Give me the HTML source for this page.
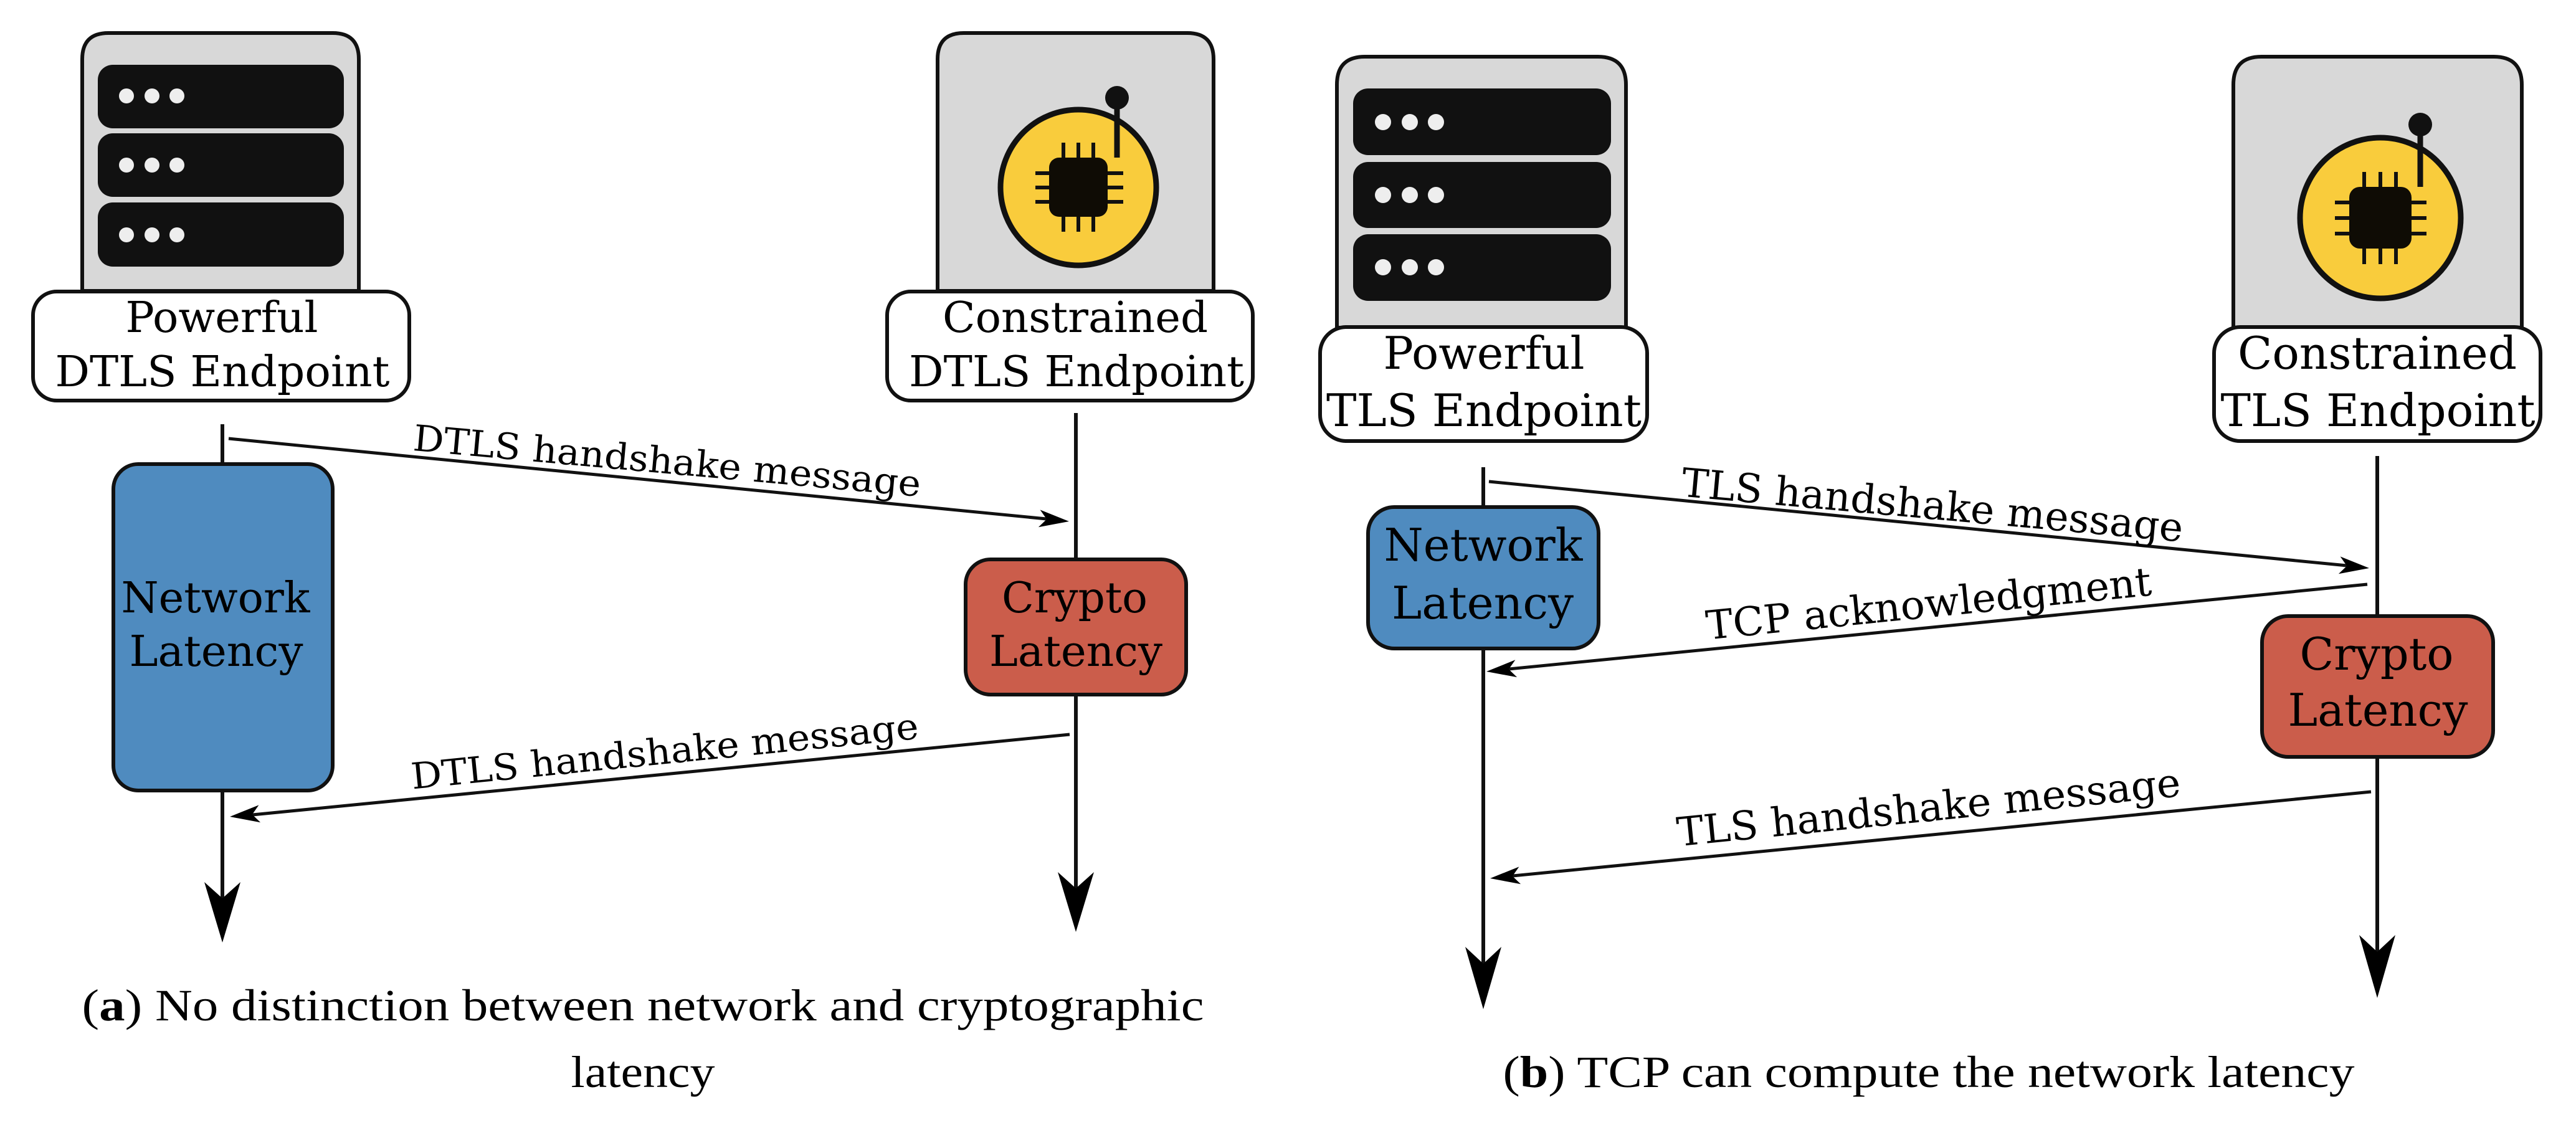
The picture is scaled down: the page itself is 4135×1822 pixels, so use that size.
<!DOCTYPE html>
<html><head><meta charset="utf-8"><style>html,body{margin:0;padding:0;background:#fff}svg{display:block}</style></head>
<body>
<svg width="4135" height="1822" viewBox="0 0 4135 1822" xmlns="http://www.w3.org/2000/svg">
<defs>
<g id="dots"><circle cx="0" cy="0" r="12" fill="#eee"/><circle cx="41" cy="0" r="12" fill="#eee"/><circle cx="81" cy="0" r="12" fill="#eee"/></g>
</defs>
<g stroke="#111" fill="none">
<!-- LEFT PANEL servers -->
<path d="M132,467 V95 Q132,53 174,53 H534 Q576,53 576,95 V467 Z" fill="#d8d8d8" stroke-width="6"/>
<rect x="157" y="104" width="395" height="102" rx="24" fill="#111" stroke="none"/>
<rect x="157" y="214" width="395" height="102" rx="24" fill="#111" stroke="none"/>
<rect x="157" y="325" width="395" height="103" rx="24" fill="#111" stroke="none"/>
<use href="#dots" x="203" y="154" stroke="none"/><use href="#dots" x="203" y="265" stroke="none"/><use href="#dots" x="203" y="377" stroke="none"/>
<rect x="53" y="468" width="604" height="175" rx="38" fill="#fff" stroke-width="6"/>

<path d="M1505,467 V95 Q1505,53 1547,53 H1906 Q1948,53 1948,95 V467 Z" fill="#d8d8d8" stroke-width="6"/>
<circle cx="1731" cy="301" r="125" fill="#f9cc3c" stroke-width="9"/>
<rect x="1684" y="253" width="94" height="95" rx="16" fill="#0f0c05" stroke="none"/>
<g stroke-width="6"><path d="M1707,229V253M1731,229V253M1755,229V253M1707,348V372M1731,348V372M1755,348V372M1662,278H1684M1662,301H1684M1662,324H1684M1778,278H1803M1778,301H1803M1778,324H1803"/></g>
<line x1="1793" y1="171" x2="1793" y2="253" stroke-width="9"/><circle cx="1793" cy="157" r="19" fill="#111" stroke="none"/>
<rect x="1424" y="468" width="587" height="175" rx="38" fill="#fff" stroke-width="6"/>

<!-- RIGHT PANEL -->
<path d="M2146,526 V136 Q2146,91 2191,91 H2565 Q2610,91 2610,136 V526 Z" fill="#d8d8d8" stroke-width="6"/>
<rect x="2172" y="142" width="414" height="107" rx="24" fill="#111" stroke="none"/>
<rect x="2172" y="260" width="414" height="106" rx="24" fill="#111" stroke="none"/>
<rect x="2172" y="376" width="414" height="107" rx="24" fill="#111" stroke="none"/>
<g stroke="none"><g transform="translate(2220,196)"><circle r="13" fill="#eee"/><circle cx="43" r="13" fill="#eee"/><circle cx="85" r="13" fill="#eee"/></g>
<g transform="translate(2220,313)"><circle r="13" fill="#eee"/><circle cx="43" r="13" fill="#eee"/><circle cx="85" r="13" fill="#eee"/></g>
<g transform="translate(2220,429)"><circle r="13" fill="#eee"/><circle cx="43" r="13" fill="#eee"/><circle cx="85" r="13" fill="#eee"/></g></g>
<rect x="2119" y="525" width="525" height="183" rx="42" fill="#fff" stroke-width="6"/>

<path d="M3585,526 V136 Q3585,91 3630,91 H4003 Q4048,91 4048,136 V526 Z" fill="#d8d8d8" stroke-width="6"/>
<circle cx="3821" cy="350" r="129" fill="#f9cc3c" stroke-width="9"/>
<rect x="3771" y="300" width="100" height="99" rx="17" fill="#0f0c05" stroke="none"/>
<g stroke-width="6"><path d="M3795,276V300M3821,276V300M3846,276V300M3795,399V424M3821,399V424M3846,399V424M3748,325H3771M3748,350H3771M3748,375H3771M3871,325H3895M3871,350H3895M3871,375H3895"/></g>
<line x1="3885" y1="214" x2="3885" y2="300" stroke-width="9"/><circle cx="3885" cy="200" r="19" fill="#111" stroke="none"/>
<rect x="3554" y="525" width="524" height="183" rx="42" fill="#fff" stroke-width="6"/>

<!-- lifelines -->
<g stroke-width="6">
<line x1="357" y1="681" x2="357" y2="1480"/>
<line x1="1727" y1="663" x2="1727" y2="1465"/>
<line x1="2381" y1="750" x2="2381" y2="1590"/>
<line x1="3816" y1="732" x2="3816" y2="1570"/>
</g>
<g fill="#000" stroke="none">
<path d="M357,1513 L328,1416 L357,1442 L386,1416 Z"/>
<path d="M1727,1496 L1698,1400 L1727,1426 L1756,1400 Z"/>
<path d="M2381,1620 L2352,1520 L2381,1547 L2410,1520 Z"/>
<path d="M3816,1602 L3787,1501 L3816,1528 L3845,1501 Z"/>
</g>

<!-- latency boxes -->
<rect x="182" y="745" width="352" height="524" rx="40" fill="#4f8bbf" stroke-width="6"/>
<rect x="1550" y="898" width="354" height="217" rx="40" fill="#cb5d4b" stroke-width="6"/>
<rect x="2196" y="814" width="370" height="227" rx="42" fill="#4f8bbf" stroke-width="6"/>
<rect x="3631" y="989" width="371" height="226" rx="42" fill="#cb5d4b" stroke-width="6"/>

<!-- message arrows -->
<g stroke-width="5">
<line x1="367" y1="704" x2="1700" y2="835"/>
<line x1="1717" y1="1179" x2="385" y2="1310"/>
<line x1="2390" y1="773" x2="3788" y2="910"/>
<line x1="3800" y1="938" x2="2402" y2="1076"/>
<line x1="3806" y1="1271" x2="2408" y2="1408"/>
</g>
<g fill="#000" stroke="none">
<path d="M0,0 L-48,-14 L-36,0 L-48,14 Z" transform="translate(1716,837) rotate(5.6)"/>
<path d="M0,0 L-48,-14 L-36,0 L-48,14 Z" transform="translate(369,1311) rotate(174.4)"/>
<path d="M0,0 L-48,-14 L-36,0 L-48,14 Z" transform="translate(3803,912) rotate(5.6)"/>
<path d="M0,0 L-48,-14 L-36,0 L-48,14 Z" transform="translate(2386,1078) rotate(174.3)"/>
<path d="M0,0 L-48,-14 L-36,0 L-48,14 Z" transform="translate(2392,1410) rotate(174.4)"/>
</g>
</g>

<g font-family="'DejaVu Serif', 'Liberation Serif', serif" fill="#000" text-anchor="middle" lengthAdjust="spacingAndGlyphs">
<text x="356" y="533" font-size="68" textLength="309" lengthAdjust="spacingAndGlyphs">Powerful</text>
<text x="357" y="620" font-size="68" textLength="537" lengthAdjust="spacingAndGlyphs">DTLS Endpoint</text>
<text x="1726" y="533" font-size="68" textLength="426" lengthAdjust="spacingAndGlyphs">Constrained</text>
<text x="1728" y="620" font-size="68" textLength="538" lengthAdjust="spacingAndGlyphs">DTLS Endpoint</text>
<text x="2382" y="592" font-size="72" textLength="323" lengthAdjust="spacingAndGlyphs">Powerful</text>
<text x="2382" y="684" font-size="72" textLength="506" lengthAdjust="spacingAndGlyphs">TLS Endpoint</text>
<text x="3816" y="592" font-size="72" textLength="448" lengthAdjust="spacingAndGlyphs">Constrained</text>
<text x="3817" y="684" font-size="72" textLength="505" lengthAdjust="spacingAndGlyphs">TLS Endpoint</text>

<text x="346" y="983" font-size="68" textLength="303" lengthAdjust="spacingAndGlyphs">Network</text>
<text x="347" y="1069" font-size="68" textLength="279" lengthAdjust="spacingAndGlyphs">Latency</text>
<text x="1725" y="983" font-size="68" textLength="234" lengthAdjust="spacingAndGlyphs">Crypto</text>
<text x="1727" y="1069" font-size="68" textLength="278" lengthAdjust="spacingAndGlyphs">Latency</text>
<text x="2381" y="900" font-size="72" textLength="319" lengthAdjust="spacingAndGlyphs">Network</text>
<text x="2380" y="993" font-size="72" textLength="292" lengthAdjust="spacingAndGlyphs">Latency</text>
<text x="3815" y="1075" font-size="72" textLength="247" lengthAdjust="spacingAndGlyphs">Crypto</text>
<text x="3817" y="1165" font-size="72" textLength="289" lengthAdjust="spacingAndGlyphs">Latency</text>

<text transform="translate(1069,760) rotate(5.2)" font-size="58" textLength="818" lengthAdjust="spacingAndGlyphs">DTLS handshake message</text>
<text transform="translate(1069,1226) rotate(-5.7)" font-size="58" textLength="818" lengthAdjust="spacingAndGlyphs">DTLS handshake message</text>
<text transform="translate(3100,833) rotate(5.2)" font-size="64" textLength="808" lengthAdjust="spacingAndGlyphs">TLS handshake message</text>
<text transform="translate(3098,991) rotate(-5.7)" font-size="64" textLength="718" lengthAdjust="spacingAndGlyphs">TCP acknowledgment</text>
<text transform="translate(3098,1318) rotate(-5.7)" font-size="64" textLength="812" lengthAdjust="spacingAndGlyphs">TLS handshake message</text>
</g>

<g font-family="'Liberation Serif', serif" fill="#000" text-anchor="middle" font-size="72">
<text x="1032" y="1638" textLength="1801" lengthAdjust="spacingAndGlyphs">(<tspan font-weight="bold">a</tspan>) No distinction between network and cryptographic</text>
<text x="1032" y="1745" textLength="231" lengthAdjust="spacingAndGlyphs">latency</text>
<text x="3096" y="1745" textLength="1367" lengthAdjust="spacingAndGlyphs">(<tspan font-weight="bold">b</tspan>) TCP can compute the network latency</text>
</g>
</svg>
</body></html>
